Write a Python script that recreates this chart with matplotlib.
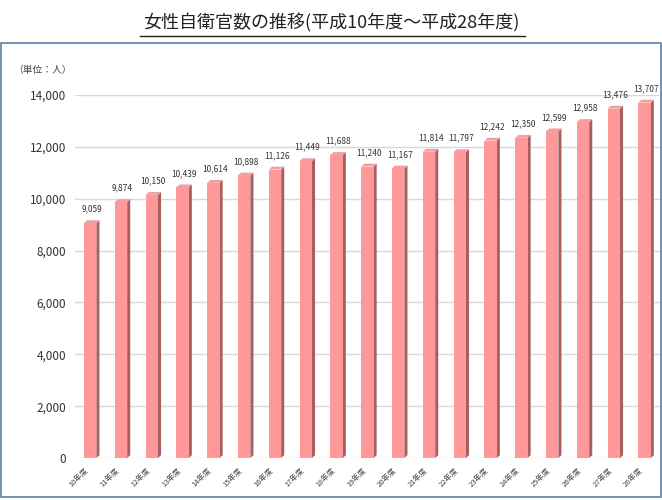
import matplotlib
matplotlib.use('Agg')
import matplotlib.pyplot as plt
from matplotlib.patches import Polygon, Rectangle

plt.rcParams['font.family'] = 'Noto Sans CJK JP'

years = ["10年度", "11年度", "12年度", "13年度", "14年度", "15年度", "16年度", "17年度",
         "18年度", "19年度", "20年度", "21年度", "22年度", "23年度", "24年度", "25年度",
         "26年度", "27年度", "28年度"]
counts = [9059, 9874, 10150, 10439, 10614, 10898, 11126, 11449, 11688, 11240,
          11167, 11814, 11797, 12242, 12350, 12599, 12958, 13476, 13707]

fig = plt.figure(figsize=(6.62, 5.0), dpi=100)
fig.text(0.5, 0.955, "女性自衛官数の推移(平成10年度～平成28年度)", ha='center', va='center',
         fontsize=13, color='#222222')
fig.add_artist(plt.Line2D([0.212, 0.793], [0.928, 0.928], color='#222222', lw=1))
fig.add_artist(Rectangle((0.002, 0.006), 0.996, 0.908, transform=fig.transFigure,
                         fill=False, ec='#5a7fa8', lw=1.2))
fig.text(0.02, 0.855, "（単位：人）", fontsize=7, color='#444444')

ax = fig.add_axes([0.113, 0.084, 0.884, 0.726])
ax.set_xlim(-0.5, 18.5)
ax.set_ylim(0, 14000)

w = 0.4
dx, dy = 0.1, 110
for i, v in enumerate(counts):
    x0 = i - w / 2
    # 側面
    ax.add_patch(Polygon([[x0 + w, 0], [x0 + w + dx, dy], [x0 + w + dx, v + dy], [x0 + w, v]],
                         closed=True, fc='#a85f5f', ec='none', zorder=3))
    # 上面
    ax.add_patch(Polygon([[x0, v], [x0 + dx, v + dy], [x0 + w + dx, v + dy], [x0 + w, v]],
                         closed=True, fc='#f0a0a0', ec='none', zorder=3))
    ax.bar(i, v, width=w, color='#ff9999', zorder=3)
    ax.text(i + 0.05, v + dy + 250, f"{v:,}", ha='center', va='bottom', fontsize=6, color='#333333')

ax.set_yticks(range(0, 14001, 2000))
ax.set_yticklabels([f"{t:,}" for t in range(0, 14001, 2000)], fontsize=8.5, color='#333333')
ax.set_xticks(range(len(years)))
ax.set_xticklabels(years, rotation=45, ha='right', fontsize=5.5, color='#444444')
ax.yaxis.grid(True, color='#d9d9d9', lw=1, zorder=0)
for s in ax.spines.values():
    s.set_visible(False)
ax.tick_params(length=0, pad=6)

fig.savefig('out.png', dpi=100)
